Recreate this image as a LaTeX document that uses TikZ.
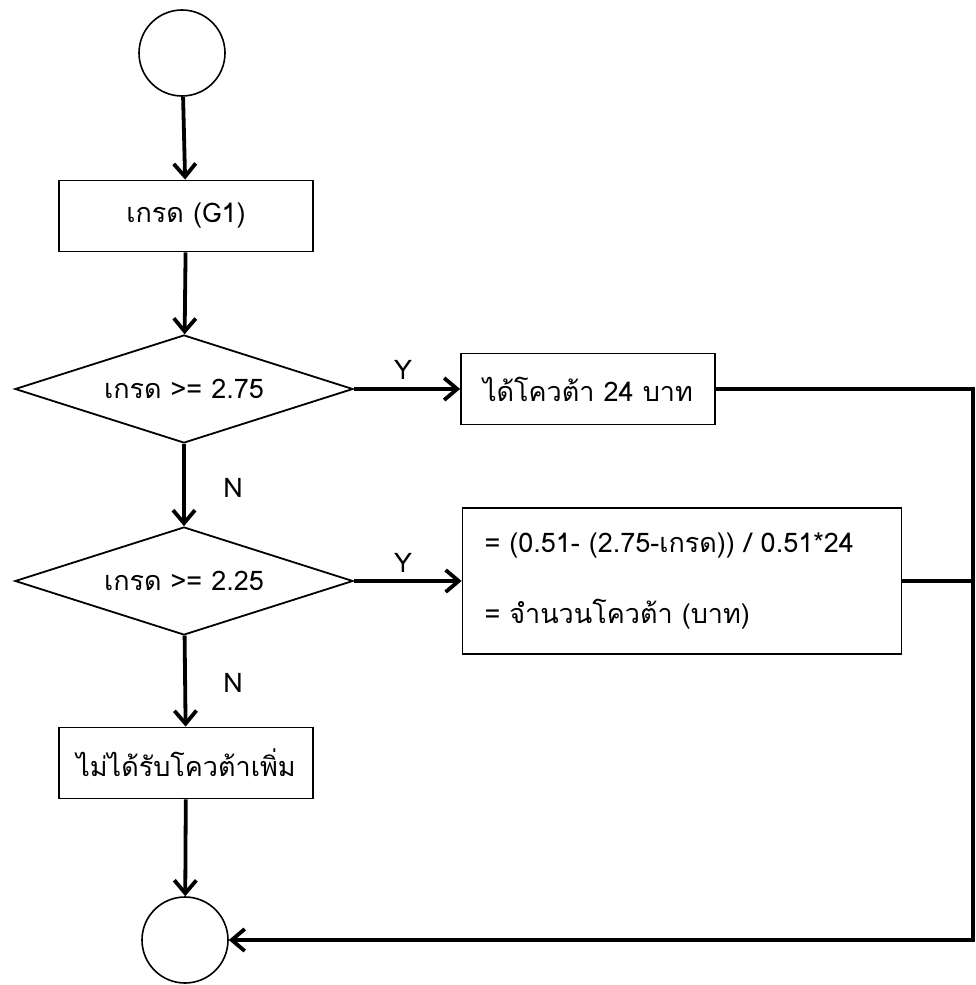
\documentclass[tikz,border=0pt]{standalone}
\usepackage{fontspec}
\newfontfamily\thaifont[Script=Thai]{Loma}
\usetikzlibrary{shapes.geometric,arrows.meta}

\tikzset{
	txt/.style={font=\thaifont\fontsize{27}{32}\selectfont},
	flowbox/.style={txt, draw, line width=1.8pt, rectangle, minimum width=254pt, minimum height=71pt, inner sep=0pt},
	decide/.style={txt, draw, line width=1.8pt, diamond, aspect=3.13, minimum width=338pt, minimum height=108pt, inner sep=0pt},
	term/.style={draw, line width=1.6pt, circle, minimum size=86pt, inner sep=0pt},
	flow/.style={line width=3.8pt, -{Straight Barb[length=13pt,width=22pt,line width=3.8pt]}}
}

\begin{document}
\begin{tikzpicture}[x=1pt,y=-1pt]
	\useasboundingbox (0,0) rectangle (975,985);

	\node[term] (start) at (182,53) {};
	\node[flowbox] (grade) at (186,216) {เกรด (G1)};
	\node[decide] (check1) at (184,389) {เกรด >= 2.75};
	\node[decide] (check2) at (184,581) {เกรด >= 2.25};
	\node[flowbox] (noquota) at (186,763) {ไม่ได้รับโควต้าเพิ่ม};
	\node[term] (stop) at (185,940) {};

	\node[flowbox] (fullquota) at (588,389) {ได้โควต้า 24 บาท};
	\node[flowbox, minimum width=439pt, minimum height=146pt, text width=395pt, align=left] (partquota) at (682,581)
		{= (0.51- (2.75-เกรด)) / 0.51*24\\[39pt]= จำนวนโควต้า (บาท)};

	\coordinate (rail) at (973,0);

	\draw[flow] (start) -- (grade);
	\draw[flow] (grade) -- (check1);
	\draw[flow] (check1) -- (check2); \node[txt] (n1) at (233,488) {N};
	\draw[flow] (check2) -- (noquota); \node[txt] (n2) at (233,683) {N};
	\draw[flow] (noquota) -- (stop);

	\draw[flow] (check1.east) -- (fullquota.west); \node[txt] (y1) at (403,370) {Y};
	\draw[flow] (check2.east) -- (partquota.west); \node[txt] (y2) at (403,563) {Y};

	\draw[flow] (fullquota.east) -- (fullquota.east -| rail) -- (stop.east -| rail) -- (stop.east);
	\draw[line width=3.8pt] (partquota.east) -- (partquota.east -| rail);
\end{tikzpicture}
\end{document}
